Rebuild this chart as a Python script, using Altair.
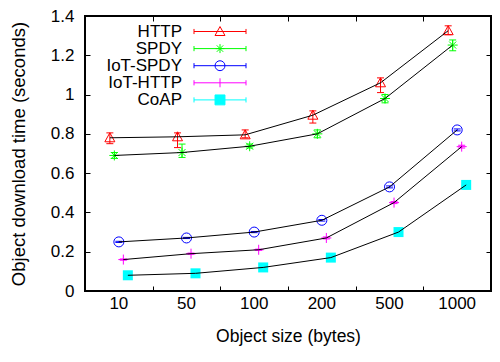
import altair as alt
import pandas as pd

# ---- data ----
sizes = [10, 50, 100, 200, 500, 1000]
series = ["HTTP", "SPDY", "IoT-SPDY", "IoT-HTTP", "CoAP"]

http = [0.78, 0.785, 0.795, 0.895, 1.06, 1.325]
http_lo = [0.75, 0.73, 0.78, 0.855, 1.01, 1.305]
http_hi = [0.805, 0.805, 0.82, 0.917, 1.085, 1.35]

spdy = [0.69, 0.705, 0.737, 0.80, 0.98, 1.252]
spdy_lo = [0.675, 0.68, 0.728, 0.78, 0.958, 1.223]
spdy_hi = [0.705, 0.748, 0.748, 0.82, 1.0, 1.278]

iot_spdy = [0.25, 0.27, 0.30, 0.36, 0.53, 0.82]
iot_spdy_lo = [0.247, 0.267, 0.297, 0.356, 0.525, 0.815]
iot_spdy_hi = [0.253, 0.273, 0.303, 0.364, 0.535, 0.825]

iot_http = [0.16, 0.19, 0.21, 0.27, 0.45, 0.735]
iot_http_lo = [0.157, 0.187, 0.207, 0.265, 0.445, 0.728]
iot_http_hi = [0.163, 0.193, 0.213, 0.275, 0.455, 0.742]

coap = [0.08, 0.09, 0.12, 0.17, 0.30, 0.54]
coap_lo = [0.078, 0.088, 0.118, 0.167, 0.296, 0.535]
coap_hi = [0.082, 0.092, 0.122, 0.173, 0.304, 0.545]

yticks = [0, 0.2, 0.4, 0.6, 0.8, 1, 1.2, 1.4]

values = {"HTTP": http, "SPDY": spdy, "IoT-SPDY": iot_spdy, "IoT-HTTP": iot_http, "CoAP": coap}
lows = {"HTTP": http_lo, "SPDY": spdy_lo, "IoT-SPDY": iot_spdy_lo, "IoT-HTTP": iot_http_lo, "CoAP": coap_lo}
highs = {"HTTP": http_hi, "SPDY": spdy_hi, "IoT-SPDY": iot_spdy_hi, "IoT-HTTP": iot_http_hi, "CoAP": coap_hi}

rows = []
for s in series:
    for i, sz in enumerate(sizes):
        rows.append({"series": s, "size": sz, "time": values[s][i],
                     "lo": lows[s][i], "hi": highs[s][i]})
df = pd.DataFrame(rows)

# ---- styles ----
colors = ["#ff0000", "#00ff00", "#0000ff", "#ff00ff", "#00ffff"]
series_color = dict(zip(series, colors))
markers = {
    "HTTP": ("M0,-1L1,0.8L-1,0.8Z", False),
    "SPDY": ("M-1,0H1M0,-1V1M-0.7,-0.7L0.7,0.7M-0.7,0.7L0.7,-0.7", False),
    "IoT-SPDY": ("circle", False),
    "IoT-HTTP": ("M-1,0H1M0,-1V1", False),
    "CoAP": ("square", True),
}
bar = "M-3.25,0H3.25M-3.25,-0.32V0.32M3.25,-0.32V0.32"
legend_paths = [
    bar + "M0,-0.62L0.62,0.5L-0.62,0.5Z",
    bar + "M-0.56,0H0.56M0,-0.56V0.56M-0.4,-0.4L0.4,0.4M-0.4,0.4L0.4,-0.4",
    bar + "M0.62,0A0.62,0.62,0,1,1,-0.62,0A0.62,0.62,0,1,1,0.62,0",
    bar + "M0,-0.56V0.56",
    bar + "M-0.62,-0.62H0.62V0.62H-0.62Z",
]
legend_fill = ["transparent", "transparent", "transparent", "transparent", "#00ffff"]

FONT = "Liberation Sans"
W, H = 406, 275

x_scale = alt.Scale(domain=sizes, paddingInner=0, paddingOuter=0)
y_scale = alt.Scale(domain=[0, 1.4], nice=False, zero=True)
off_scale = alt.Scale(domain=series, range=[22.6, 45.1], paddingInner=0, paddingOuter=0)

main_x_axis = alt.Axis(title="Object size (bytes)", labelAngle=0, ticks=False, domain=False,
                       grid=False, labelPadding=4, titlePadding=16, titleFontSize=17.5)
main_y_axis = alt.Axis(title="Object download time (seconds)", values=yticks, format="~g",
                       ticks=False, domain=False, grid=False, labelPadding=11,
                       titlePadding=22, titleFontSize=18.5)
tick_common = dict(labels=False, ticks=True, tickSize=5, domain=False, grid=False, title=None,
                   tickColor="black", tickWidth=1)
in_x_from_bottom = alt.Axis(orient="top", offset=-H, tickBand="extent", **tick_common)
in_x_from_top = alt.Axis(orient="bottom", offset=-H, tickBand="extent", **tick_common)
in_y_from_left = alt.Axis(orient="right", offset=-W, values=yticks, **tick_common)
in_y_from_right = alt.Axis(orient="left", offset=-W, values=yticks, **tick_common)

base = alt.Chart(df)
xo = alt.XOffset("series:N", scale=off_scale)
stk = alt.Stroke("series:N", sort=series, scale=alt.Scale(range=colors), legend=None)

rules = base.mark_rule(strokeWidth=1).encode(
    x=alt.X("size:O", scale=x_scale, axis=in_x_from_bottom),
    xOffset=xo,
    y=alt.Y("lo:Q", scale=y_scale, axis=in_y_from_left),
    y2="hi:Q",
    stroke=stk,
)
caps_lo = base.mark_point(shape="M-1,0H1", size=49, strokeWidth=1, filled=False, opacity=1).encode(
    x=alt.X("size:O", scale=x_scale, axis=in_x_from_top),
    xOffset=xo,
    y=alt.Y("lo:Q", scale=y_scale, axis=in_y_from_right),
    stroke=stk,
)
caps_hi = base.mark_point(shape="M-1,0H1", size=49, strokeWidth=1, filled=False, opacity=1).encode(
    x=alt.X("size:O", scale=x_scale, axis=None),
    xOffset=xo,
    y=alt.Y("hi:Q", scale=y_scale, axis=None),
    stroke=stk,
)

point_layers = []
for s in series:
    shp, filled = markers[s]
    point_layers.append(
        base.transform_filter(alt.datum.series == s)
        .mark_point(shape=shp, size=100, strokeWidth=1, filled=filled, opacity=1,
                    color=series_color[s])
        .encode(
            x=alt.X("size:O", scale=x_scale, axis=None),
            xOffset=xo,
            y=alt.Y("time:Q", scale=y_scale, axis=None),
        )
    )

lines = base.mark_line(color="black", strokeWidth=1).encode(
    x=alt.X("size:O", scale=x_scale, axis=main_x_axis),
    xOffset=xo,
    y=alt.Y("time:Q", scale=y_scale, axis=main_y_axis),
    detail="series:N",
)

leg = alt.Legend(title=None, orient="none", legendX=16.5, legendY=7, padding=0,
                 labelAlign="right", labelOffset={"expr": "-46.5"}, symbolOffset=110,
                 rowPadding={"expr": "-0.9"}, symbolSize=256, symbolStrokeWidth=1,
                 symbolOpacity=1)
legend_layer = base.mark_point(size=256, strokeWidth=1, filled=False, opacity=0).encode(
    x=alt.X("size:O", scale=x_scale, axis=None),
    y=alt.Y("time:Q", scale=y_scale, axis=None),
    color=alt.Color("series:N", scale=alt.Scale(domain=series, range=colors), legend=leg),
    shape=alt.Shape("series:N", scale=alt.Scale(domain=series, range=legend_paths), legend=leg),
    fill=alt.Fill("series:N", scale=alt.Scale(domain=series, range=legend_fill), legend=leg),
)

chart = alt.layer(rules, caps_lo, caps_hi, *point_layers, lines, legend_layer).resolve_axis(
    x="independent", y="independent"
).properties(
    width=W, height=H,
    autosize=alt.AutoSizeParams(type="none"),
    padding={"left": 77, "top": 8, "right": 1, "bottom": 57},
).configure_view(
    stroke="black", strokeWidth=2
).configure_axis(
    labelFont=FONT, titleFont=FONT, labelFontSize=17, labelColor="black",
    titleColor="black", titleFontWeight="normal"
).configure_legend(
    labelFont=FONT, labelFontSize=17, labelColor="black"
)

chart.save("out.html", embed_options={"renderer": "svg", "actions": False})
